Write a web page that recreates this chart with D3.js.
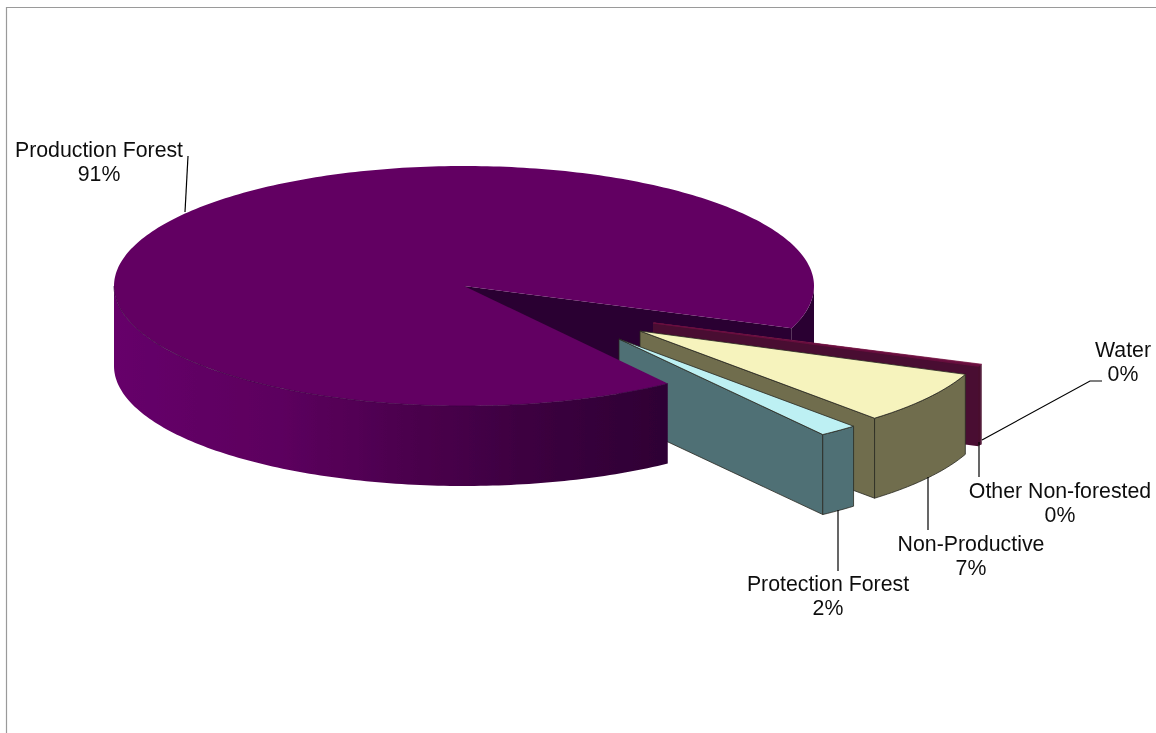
<!DOCTYPE html>
<html>
<head>
<meta charset="utf-8">
<script src="https://cdn.jsdelivr.net/npm/d3@7/dist/d3.min.js"></script>
<style>
html,body{margin:0;padding:0;background:#fff;}
svg{display:block;}
text{font-family:"Liberation Sans",Arial,sans-serif;font-size:21.3px;fill:#111;text-anchor:middle;}
</style>
</head>
<body>
<svg id="chart" width="1156" height="733"></svg>
<script>
// Data (labels show the rounded shares)
const categories = ["Production Forest", "Water", "Other Non-forested", "Non-Productive", "Protection Forest"];
const shares = [90.6, 0.1, 0.2, 7.3, 1.8];

// Styling and layout
const topColors = ["#620062", "#7a1a48", "#6a1040", "#f6f3bd", "#bdf0f3"];
const wallColors = ["#2c0032", "#4a0a30", "#4a0a30", "#6f6d4e", "#4f6f75"];
const explodeX = [0, 190, 189, 176, 155];
const explodeY = [0, 37, 37, 45, 53];
const labelX = [99, 1123, 1060, 971, 828];
const labelY = [157, 357, 498, 551, 591];
const leaders = [
  [[188,156],[185,212]],
  [[982,440],[1090,381],[1102,381]],
  [[979,442],[979,477]],
  [[928,477],[928,530]],
  [[838,510],[838,571]]
];

const cx = 464, cy = 286, rx = 350, ry = 120, explodedRy = 117.5, depth = 80;
const svg = d3.select("#chart");

const total = d3.sum(shares);
const rad = Math.PI / 180;
// d3.pie angles start at 12 o'clock; rotate so Production starts at 54.4deg in ellipse-parameter space
const pie = d3.pie().value(d => d).sort(null).startAngle(0).endAngle(2 * Math.PI);
const arcs = pie(shares).map((a, i) => ({
  i,
  a0: a.startAngle + 54.4 * rad,
  a1: a.endAngle + 54.4 * rad
}));

const line = d3.line();
function arcPts(a0, a1, dx, dy, yr) {
  const n = Math.max(2, Math.ceil(Math.abs(a1 - a0) / (1 * rad)));
  return d3.range(n + 1).map(k => {
    const t = a0 + (a1 - a0) * k / n;
    return [cx + dx + rx * Math.cos(t), cy + dy + yr * Math.sin(t)];
  });
}
const defs = svg.append("defs");
const frontGrad = defs.append("linearGradient").attr("id", "front")
  .attr("gradientUnits", "userSpaceOnUse").attr("x1", 114).attr("x2", 668).attr("y1", 0).attr("y2", 0);
[[0, "#66006a"], [0.3, "#5c005e"], [0.55, "#4a004c"], [0.8, "#39003d"], [1, "#2e0034"]]
  .forEach(s => frontGrad.append("stop").attr("offset", s[0]).attr("stop-color", s[1]));

const blur = defs.append("filter").attr("id", "soft");
blur.append("feGaussianBlur").attr("stdDeviation", 0.5);
const blurT = defs.append("filter").attr("id", "softT");
blurT.append("feGaussianBlur").attr("stdDeviation", 0.3);

// frame
svg.append("path")
  .attr("d", line([[6.5, 733], [6.5, 7.5], [1156, 7.5]]))
  .attr("fill", "none").attr("stroke", "#9a9a9a").attr("stroke-width", 1.2);

const g = svg.append("g").attr("filter", "url(#soft)");
const edge = "#2a2a22";

function wallPoly(pts, depthPx) {
  const low = pts.map(p => [p[0], p[1] + depthPx]).reverse();
  return line(pts.concat(low)) + "Z";
}

// Production: back part — cut wall and the right rim segment
const prod = arcs[0];
g.append("path")
  .attr("d", wallPoly([[cx, cy]].concat(arcPts(prod.a1, prod.a1, 0, 0, ry).slice(0, 1)), depth))
  .attr("fill", wallColors[0]);
g.append("path")
  .attr("d", wallPoly(arcPts(2 * Math.PI, prod.a1, 0, 0, ry), depth))
  .attr("fill", wallColors[0]);

// Exploded slices, back to front
[1, 2, 3, 4].forEach(i => {
  const a = arcs[i];
  const dx = explodeX[i], dy = explodeY[i];
  const apex = [cx + dx, cy + dy];
  const outer = arcPts(a.a0, a.a1, dx, dy, explodedRy);
  const endPt = outer[outer.length - 1];
  const stroke = i >= 3 ? edge : "none";
  // side wall along the clockwise edge
  g.append("path").attr("d", wallPoly([apex, endPt], depth))
    .attr("fill", wallColors[i]).attr("stroke", stroke).attr("stroke-width", 0.8);
  // outer wall
  g.append("path").attr("d", wallPoly(outer, depth))
    .attr("fill", wallColors[i]).attr("stroke", stroke).attr("stroke-width", 0.8);
  // top
  g.append("path").attr("d", line([apex].concat(outer)) + "Z")
    .attr("fill", topColors[i]).attr("stroke", stroke === "none" ? topColors[i] : stroke).attr("stroke-width", 0.8);
});

// Production: front rim then top surface over everything
g.append("path")
  .attr("d", wallPoly(arcPts(prod.a0, Math.PI, 0, 0, ry), depth))
  .attr("fill", "url(#front)");
g.append("path")
  .attr("d", line([[cx, cy]].concat(arcPts(prod.a0, prod.a1, 0, 0, ry))) + "Z")
  .attr("fill", topColors[0]);
g.append("path")
  .attr("d", line(arcPts(prod.a0, Math.PI, 0, 0, ry)))
  .attr("fill", "none").attr("stroke", "#3c0042").attr("stroke-width", 0.7);

// Leader lines
leaders.forEach(pts => {
  svg.append("path").attr("d", line(pts)).attr("fill", "none")
    .attr("stroke", "#000").attr("stroke-width", 1.2);
});

// Labels
const labels = svg.append("g").attr("filter", "url(#softT)");
categories.forEach((name, i) => {
  const pct = Math.round(shares[i] / total * 100) + "%";
  const t = labels.append("text").attr("x", labelX[i]).attr("y", labelY[i]);
  t.append("tspan").attr("x", labelX[i]).text(name);
  t.append("tspan").attr("x", labelX[i]).attr("dy", 24).text(pct);
});
</script>
</body>
</html>
